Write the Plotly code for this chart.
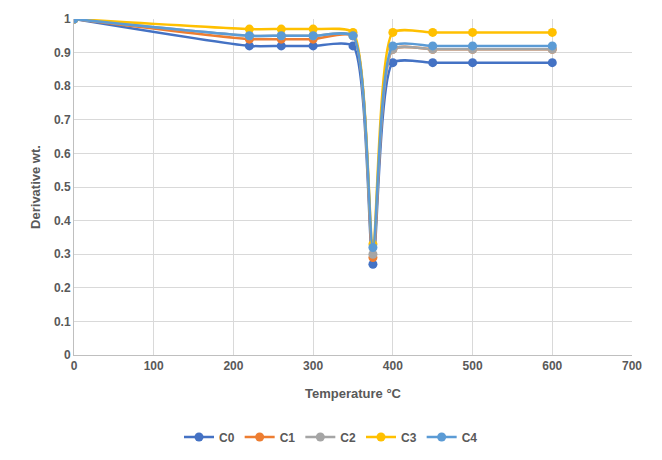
import plotly.graph_objects as go

temperature = [0, 220, 260, 300, 350, 375, 400, 450, 500, 600]
c0 = [1.0, 0.92, 0.92, 0.92, 0.92, 0.27, 0.87, 0.87, 0.87, 0.87]
c1 = [1.0, 0.94, 0.94, 0.94, 0.95, 0.29, 0.91, 0.91, 0.91, 0.91]
c2 = [1.0, 0.95, 0.95, 0.95, 0.95, 0.30, 0.91, 0.91, 0.91, 0.91]
c3 = [1.0, 0.97, 0.97, 0.97, 0.96, 0.33, 0.96, 0.96, 0.96, 0.96]
c4 = [1.0, 0.95, 0.95, 0.95, 0.95, 0.32, 0.92, 0.92, 0.92, 0.92]
names = ["C0", "C1", "C2", "C3", "C4"]
series = [c0, c1, c2, c3, c4]
colors = ["#4472C4", "#ED7D31", "#A5A5A5", "#FFC000", "#5B9BD5"]

fig = go.Figure()
for n, s, c in zip(names, series, colors):
    fig.add_trace(go.Scatter(
        x=temperature, y=s, name="<b>" + n + "</b>", mode="lines+markers",
        line=dict(color=c, width=2.5, shape="spline", smoothing=0.6),
        marker=dict(color=c, size=9),
    ))

font_fam = "Liberation Sans, Arial, sans-serif"
fig.update_layout(
    width=662, height=460,
    margin=dict(l=74, r=30, t=17, b=105),
    paper_bgcolor="white", plot_bgcolor="white",
    font=dict(family=font_fam, color="#595959", size=12),
    showlegend=True,
    legend=dict(orientation="h", x=0.5, xanchor="center", xref="container",
                y=0.05, yanchor="middle", yref="container",
                font=dict(size=12, color="#595959", family=font_fam), itemwidth=30),
    xaxis=dict(
        range=[0, 700], dtick=100, showgrid=True, gridcolor="#D9D9D9", gridwidth=1,
        zeroline=False, showline=True, linecolor="#BFBFBF",
        ticks="", tickfont=dict(size=12, color="#595959"),
        title=dict(text="<b>Temperature °C</b>", font=dict(size=13, color="#595959"), standoff=16),
    ),
    yaxis=dict(
        range=[0, 1], dtick=0.1, showgrid=True, gridcolor="#D9D9D9", gridwidth=1,
        zeroline=False, showline=True, linecolor="#BFBFBF",
        ticks="", tickfont=dict(size=12, color="#595959"), tickformat="~g",
        title=dict(text="<b>Derivative wt.</b>", font=dict(size=13, color="#595959"), standoff=10),
    ),
)
fig.update_xaxes(tickprefix="<b>", ticksuffix="</b>")
fig.update_yaxes(tickprefix="<b>", ticksuffix="</b>")

fig.write_html("out.html")
